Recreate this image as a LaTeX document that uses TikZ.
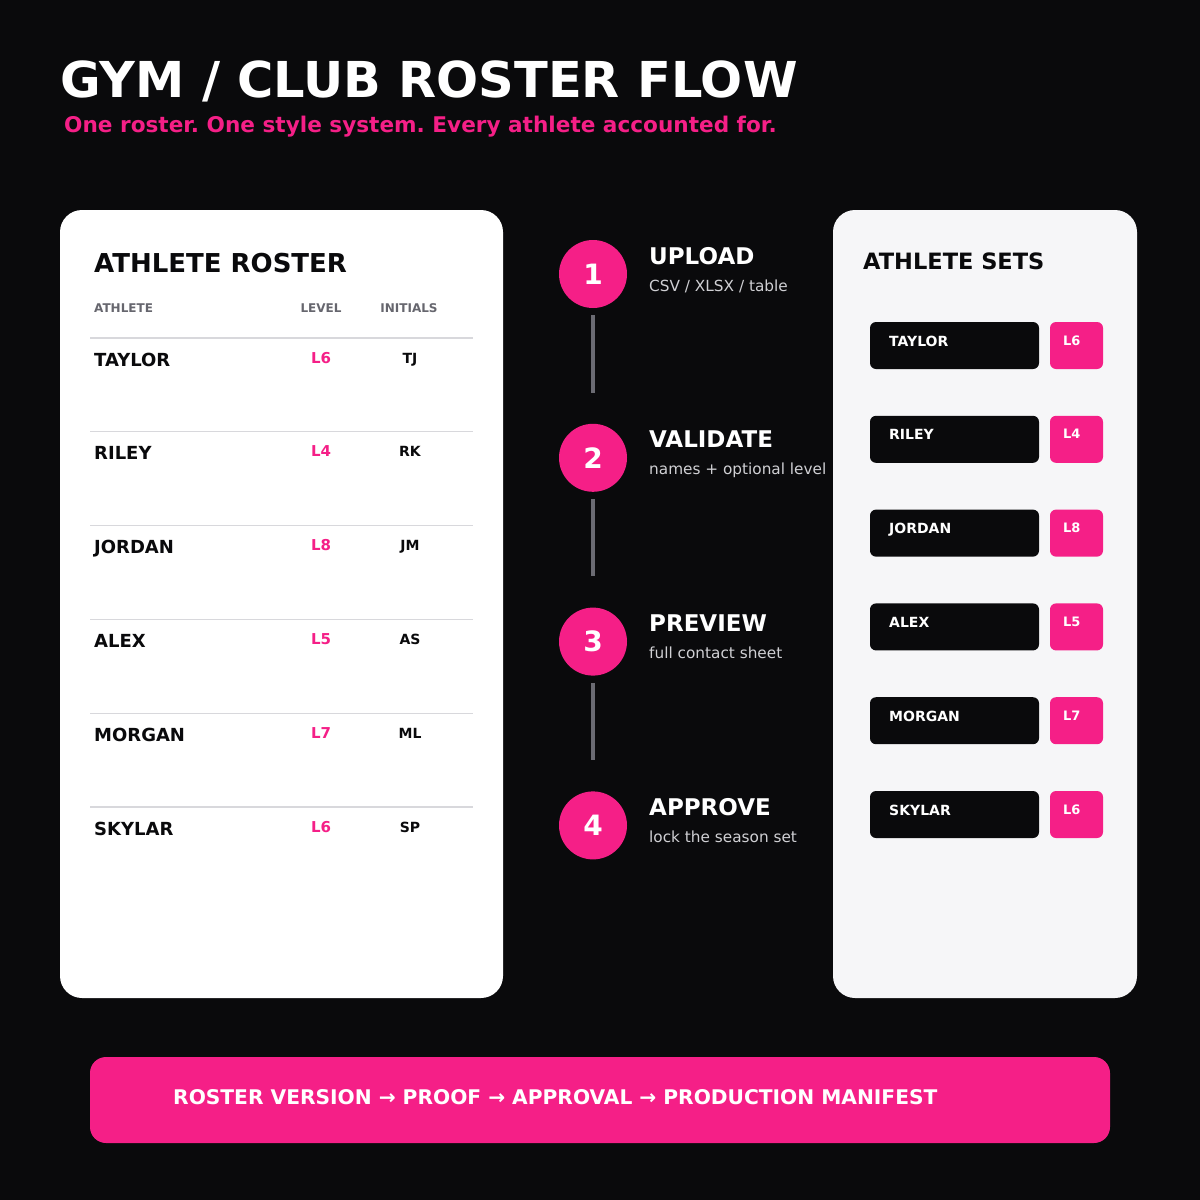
\documentclass[tikz,border=0pt]{standalone}
\usepackage{fontspec}
\setmainfont{DejaVu Sans}
\frenchspacing
\definecolor{bg}{HTML}{0A0A0C}
\definecolor{pk}{HTML}{F51F87}
\definecolor{cardb}{HTML}{F6F6F8}
\definecolor{ln}{HTML}{6B6B73}
\definecolor{hd}{HTML}{66666E}
\definecolor{sub}{HTML}{D0D0D4}
\definecolor{rule}{HTML}{D8D8DC}
\tikzset{
  fs/.style={font=\fontsize{#1}{#1}\selectfont\bfseries},
  nm/.style={fs=18,anchor=base west,text=bg,inner sep=0},
  lvl/.style={fs=15,anchor=base,text=pk,inner sep=0},
  ini/.style={fs=14,anchor=base,text=bg,inner sep=0},
  hdr/.style={fs=12,anchor=base,text=hd,inner sep=0},
  stepc/.style={circle,fill=pk,minimum size=68pt,inner sep=0,text=white,fs=28},
  stt/.style={fs=23,anchor=base west,text=white,inner sep=0},
  sts/.style={font=\fontsize{15.3}{15.3}\selectfont,anchor=base west,text=sub,inner sep=0},
  pill/.style={fill=bg,rounded corners=6pt},
  badge/.style={fill=pk,rounded corners=6pt},
  pt/.style={fs=14,anchor=base west,text=white,inner sep=0},
  bt/.style={fs=13,anchor=base west,text=white,inner sep=0},
  conn/.style={draw=ln,line width=4pt}}
\begin{document}
\begin{tikzpicture}[x=1pt,y=-1pt]
\fill[bg] (0,0) rectangle (1200,1200);
\useasboundingbox (0,0) rectangle (1200,1200);
\node[fs=49.5,anchor=base west,text=white,inner sep=0] (title) at (60,97) {GYM / CLUB ROSTER FLOW};
\node[fs=21.6,anchor=base west,text=pk,inner sep=0] (subtitle) at (64,132) {One roster. One style system. Every athlete accounted for.};
% left card
\fill[white,rounded corners=22pt] (60,210) rectangle (503,998);
\node[fs=26,anchor=base west,text=bg,inner sep=0] (lt) at (94,272) {ATHLETE ROSTER};
\node[hdr,anchor=base west] (h1) at (94,312) {ATHLETE};
\node[hdr] (h2) at (321,312) {LEVEL};
\node[hdr] (h3) at (409,312) {INITIALS};
\foreach \n/\l/\i [count=\k from 0] in {TAYLOR/L6/TJ,RILEY/L4/RK,JORDAN/L8/JM,ALEX/L5/AS,MORGAN/L7/ML,SKYLAR/L6/SP}{
  \pgfmathsetmacro\yy{338+93.8*\k}
  \draw[rule,line width=1.2pt] (90,\yy) -- (473,\yy);
  \node[nm] (n\k) at (94,\yy+28) {\n};
  \node[lvl] (l\k) at (321,\yy+25) {\l};
  \node[ini] (i\k) at (410,\yy+25) {\i};
}
% steps
\foreach \t/\s [count=\k] in {UPLOAD/{CSV / XLSX / table},VALIDATE/{names + optional level},PREVIEW/{full contact sheet},APPROVE/{lock the season set}}{
  \pgfmathsetmacro\yy{274+183.8*(\k-1)}
  \node[stepc] (s\k) at (593,\yy) {\k};
  \node[stt] (st\k) at (649,\yy-10) {\t};
  \node[sts] (ss\k) at (649,\yy+17) {\s};
}
\foreach \a/\b in {1/2,2/3,3/4}{
  \draw[conn] ([yshift=-7pt]s\a.south) -- ([yshift=31pt]s\b.north);
}
% right card
\fill[cardb,rounded corners=22pt] (833,210) rectangle (1137,998);
\node[fs=22.5,anchor=base west,text=bg,inner sep=0] (rt) at (863,269) {ATHLETE SETS};
\foreach \n/\l [count=\k from 0] in {TAYLOR/L6,RILEY/L4,JORDAN/L8,ALEX/L5,MORGAN/L7,SKYLAR/L6}{
  \pgfmathsetmacro\yy{322+93.8*\k}
  \fill[pill] (870,\yy) rectangle (1039,\yy+47);
  \fill[badge] (1050,\yy) rectangle (1103,\yy+47);
  \node[pt] (p\k) at (889,\yy+24) {\n};
  \node[bt] (b\k) at (1063,\yy+23) {\l};
}
% bottom bar
\fill[pk,rounded corners=16pt] (90,1057) rectangle (1110,1143);
\node[fs=20.2,anchor=base west,text=white,inner sep=0] (bar) at (173,1104) {ROSTER VERSION → PROOF → APPROVAL → PRODUCTION MANIFEST};
\end{tikzpicture}
\end{document}
